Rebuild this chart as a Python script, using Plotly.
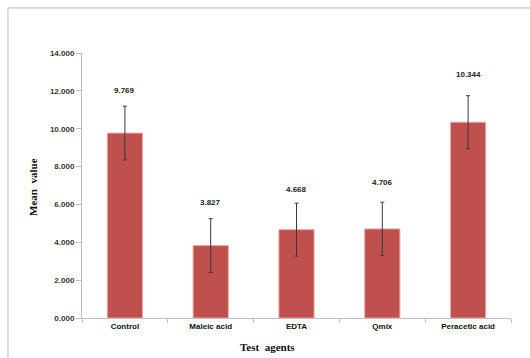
import plotly.graph_objects as go

# Mean value per test agent, with its standard deviation
agents = ["Control", "Maleic acid", "EDTA", "Qmix", "Peracetic acid"]
means = [9.769, 3.827, 4.668, 4.706, 10.344]
errors = [1.42, 1.42, 1.40, 1.41, 1.40]
value_labels = ["9.769", "3.827", "4.668", "4.706", "10.344"]

# vertical gap (px) between the top of each error bar and its value label
label_gaps = [15, 16, 13, 19, 21]

y_ticks = [0, 2, 4, 6, 8, 10, 12, 14]
y_tick_text = [f"{v:.3f}" for v in y_ticks]

fig = go.Figure()
fig.add_trace(go.Bar(
    x=agents,
    y=means,
    width=0.41,
    marker=dict(color="#C0504D", line=dict(color="#E8A9A7", width=1)),
    error_y=dict(type="data", array=errors, visible=True,
                 color="#3A3A3A", thickness=1, width=2),
    showlegend=False,
))

for a, m, e, t, g in zip(agents, means, errors, value_labels, label_gaps):
    fig.add_annotation(
        x=a, y=m + e, text=t, showarrow=False,
        yanchor="bottom", yshift=g - 6,
        font=dict(family="Liberation Sans", size=8, color="#222222", weight="bold"),
    )

axis_grey = "#BFBFBF"
fig.update_xaxes(
    type="category",
    showline=True, linecolor=axis_grey, linewidth=1,
    ticks="outside", tickson="boundaries", ticklen=4, tickcolor=axis_grey,
    tickfont=dict(family="Liberation Sans", size=8, color="#111111", weight="bold"),
    showgrid=False,
)
fig.update_yaxes(
    range=[0, 14],
    tickvals=y_ticks, ticktext=y_tick_text,
    showline=True, linecolor=axis_grey, linewidth=1,
    ticks="outside", ticklen=5, tickcolor=axis_grey,
    tickfont=dict(family="Liberation Sans", size=8, color="#333333", weight="bold"),
    showgrid=False, zeroline=False,
)

# axis titles
fig.add_annotation(
    xref="paper", yref="paper", x=-0.114, y=0.495, text="<b>Mean  value</b>",
    textangle=-90, showarrow=False, xanchor="center", yanchor="middle",
    font=dict(family="Liberation Serif", size=11, color="#111111"),
)
fig.add_annotation(
    xref="paper", yref="paper", x=0.433, y=-0.11, text="<b>Test  agents</b>",
    showarrow=False, xanchor="center", yanchor="middle",
    font=dict(family="Liberation Serif", size=11, color="#111111"),
)

# chart frame
fig.add_shape(
    type="rect", xref="paper", yref="paper",
    x0=-0.1725, x1=1.2, y0=-0.3, y1=1.17,
    line=dict(color="#BDBDBD", width=1), fillcolor="rgba(0,0,0,0)", layer="below",
)

fig.update_layout(
    width=530, height=358,
    margin=dict(l=82, r=19, t=53, b=40),
    plot_bgcolor="white", paper_bgcolor="white",
    bargap=0.59,
)

fig.write_html("out.html")
